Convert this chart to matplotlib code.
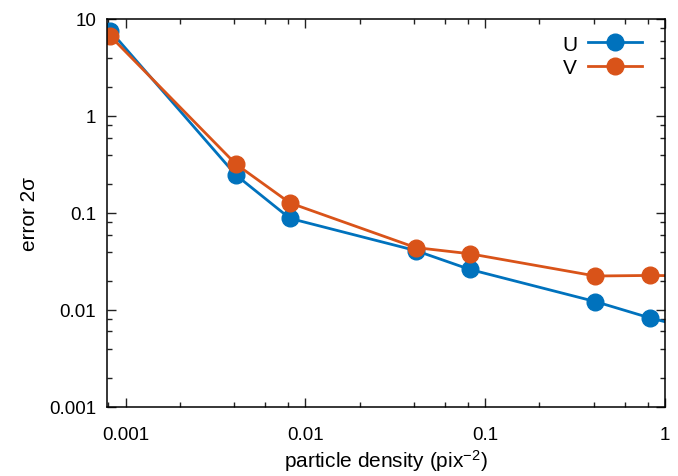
# error vs particle density for the U and V components, log-log

import numpy as np
import matplotlib.pyplot as plt
from matplotlib.ticker import LogLocator, FixedLocator, FixedFormatter, NullFormatter

plt.rcParams['font.family'] = ['Liberation Sans', 'DejaVu Sans']
plt.rcParams['mathtext.fontset'] = 'custom'
plt.rcParams['mathtext.rm'] = 'Liberation Sans'
plt.rcParams['mathtext.default'] = 'regular'

density = [0.00082, 0.0041, 0.0082, 0.041, 0.082, 0.41, 0.82, 4.1]
err_u = [7.6, 0.247, 0.088, 0.041, 0.0262, 0.0122, 0.0083, 0.0039]
err_v = [6.7, 0.32, 0.127, 0.044, 0.038, 0.0224, 0.0227, 0.022]

x_ticks = [0.001, 0.01, 0.1, 1]
x_labels = ['0.001', '0.01', '0.1', '1']
y_ticks = [0.001, 0.01, 0.1, 1, 10]
y_labels = ['0.001', '0.01', '0.1', '1', '10']

blue = '#0072bd'
orange = '#d95319'

fig = plt.figure(figsize=(6.78, 4.77), dpi=100)
ax = fig.add_axes([0.158, 0.1447, 0.823, 0.8134])

ax.plot(density, err_u, '-o', color=blue, lw=2.0, ms=12, label='U')
ax.plot(density, err_v, '-o', color=orange, lw=2.0, ms=12, label='V')

ax.set_xscale('log')
ax.set_yscale('log')
ax.set_xlim(0.00079, 1)
ax.set_ylim(0.001, 10)

for axis, ticks, labels in ((ax.xaxis, x_ticks, x_labels), (ax.yaxis, y_ticks, y_labels)):
    axis.set_major_locator(FixedLocator(ticks))
    axis.set_major_formatter(FixedFormatter(labels))
    axis.set_minor_locator(LogLocator(base=10, subs=(2, 4, 6, 8)))
    axis.set_minor_formatter(NullFormatter())

ax.tick_params(which='both', direction='in', top=True, right=True,
               labelsize=13.5, width=1.0, colors='#222222', labelcolor='black')
ax.tick_params(which='major', length=6.5)
ax.tick_params(which='minor', length=3.3)
ax.tick_params(axis='x', which='major', pad=14)
ax.tick_params(axis='y', which='major', pad=8)
for s in ax.spines.values():
    s.set_linewidth(1.1)

ax.set_xlabel('particle density (pix$^{-2}$)', fontsize=15, labelpad=3)
ax.set_ylabel('error 2σ', fontsize=15, labelpad=7)

ax.legend(loc='upper right', bbox_to_anchor=(0.986, 1.0), frameon=False,
          markerfirst=False, fontsize=15, handlelength=2.6, handletextpad=0.5,
          labelspacing=0.22, borderaxespad=0.45, borderpad=0.3)

fig.savefig('out.png', dpi=100)
